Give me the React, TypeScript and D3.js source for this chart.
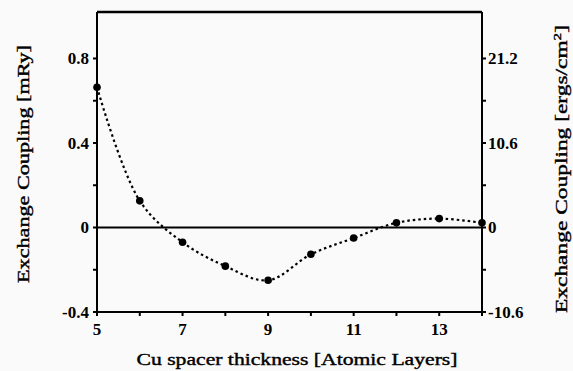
import React from "react";
import * as d3 from "d3";

const layers = [5, 6, 7, 8, 9, 10, 11, 12, 13, 14];
const coupling = [0.664, 0.126, -0.07, -0.183, -0.25, -0.127, -0.05, 0.022, 0.042, 0.022];
const xTicksMajor = [5, 7, 9, 11, 13];
const xTicksAll = [5, 6, 7, 8, 9, 10, 11, 12, 13, 14];
const yTicksMajor = [0.8, 0.4, 0, -0.4];
const yTicksMinor = [0.6, 0.2, -0.2];
const rTicksMajor = [21.2, 10.6, 0, -10.6];
const rTicksMinor = [15.9, 5.3, -5.3];
const conversion = 26.5;

const W = 573, H = 371;
const L = 97, R = 482, T = 12, B = 312;

export default function App() {
  const x = d3.scaleLinear().domain([5, 14]).range([L, R]);
  const y = d3.scaleLinear().domain([-0.4, 1.02]).range([B, T]);
  const yr = d3.scaleLinear().domain([-0.4 * conversion, 1.02 * conversion]).range([B, T]);
  const pts = layers.map((l, i) => [x(l), y(coupling[i])] as [number, number]);
  const line = d3.line().curve(d3.curveCatmullRom.alpha(0.5))(pts) || "";
  const fs = { fontFamily: "'Liberation Serif', 'Times New Roman', serif" };
  const fmt = (t: number) => (t === 0 ? "0" : (t < 0 ? "-" : "") + Math.abs(t).toFixed(1));
  return (
    <svg width={W} height={H} style={{ position: "absolute", left: 0, top: 0, background: "#fafafa" }}>
      <rect x={0} y={0} width={W} height={H} fill="#fafafa" />
      <line x1={L} x2={R} y1={y(0)} y2={y(0)} stroke="#000" strokeWidth={1.8} />
      <line x1={L} x2={R} y1={T} y2={T} stroke="#000" strokeWidth={2.5} />
      <line x1={L} x2={R} y1={B} y2={B} stroke="#000" strokeWidth={2} />
      <line x1={L} x2={L} y1={T} y2={B} stroke="#000" strokeWidth={2} />
      <line x1={R} x2={R} y1={T} y2={B} stroke="#000" strokeWidth={2} />
      {xTicksAll.map((t) => (
        <line key={"xt" + t} x1={x(t)} x2={x(t)} y1={B - 1} y2={B + 4} stroke="#000" strokeWidth={2} />
      ))}
      {xTicksMajor.map((t) => (
        <text key={"xl" + t} x={x(t)} y={335} textAnchor="middle" style={fs} fontWeight="bold" fontSize={17}>
          {t}
        </text>
      ))}
      {[...yTicksMajor, ...yTicksMinor].map((t) => (
        <line key={"yt" + t} x1={L - 4} x2={L} y1={y(t)} y2={y(t)} stroke="#000" strokeWidth={2} />
      ))}
      {yTicksMajor.map((t) => (
        <text key={"yl" + t} x={89} y={y(t) + 6} textAnchor="end" style={fs} fontWeight="bold" fontSize={17}>
          {fmt(t)}
        </text>
      ))}
      {[...rTicksMajor, ...rTicksMinor].map((t) => (
        <line key={"rt" + t} x1={R} x2={R + 4} y1={yr(t)} y2={yr(t)} stroke="#000" strokeWidth={2} />
      ))}
      {rTicksMajor.map((t) => (
        <text key={"rl" + t} x={488} y={yr(t) + 6} textAnchor="start" style={fs} fontWeight="bold" fontSize={17}>
          {fmt(t)}
        </text>
      ))}
      <path d={line} fill="none" stroke="#000" strokeWidth={2.2} strokeDasharray="2.5,3" />
      {pts.map(([px, py], i) => (
        <circle key={"p" + i} cx={px} cy={py} r={3.8} fill="#000" />
      ))}
      <text x={297} y={365} textAnchor="middle" style={fs} fontSize={17} stroke="#000" strokeWidth={0.4} textLength={321} lengthAdjust="spacingAndGlyphs">
        Cu spacer thickness [Atomic Layers]
      </text>
      <text transform={`translate(29,164) rotate(-90)`} textAnchor="middle" style={fs} fontSize={17} stroke="#000" strokeWidth={0.4} textLength={238} lengthAdjust="spacingAndGlyphs">
        Exchange Coupling [mRy]
      </text>
      <text transform={`translate(567,169) rotate(-90)`} textAnchor="middle" style={fs} fontSize={17} stroke="#000" strokeWidth={0.4} textLength={288} lengthAdjust="spacingAndGlyphs">
        Exchange Coupling [ergs/cm<tspan dy={-6} fontSize={11}>2</tspan><tspan dy={6}>]</tspan>
      </text>
    </svg>
  );
}
